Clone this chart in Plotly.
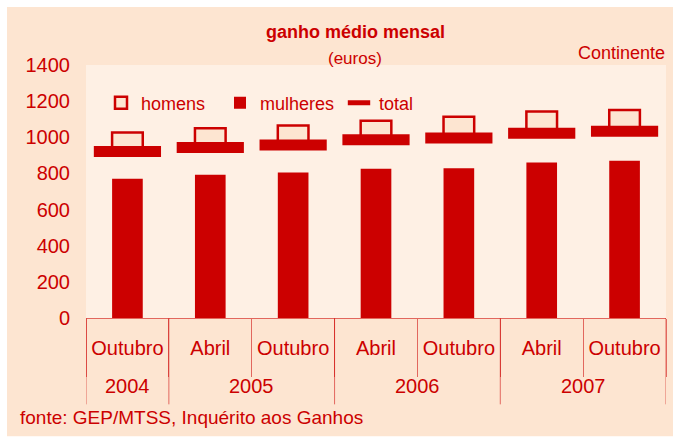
import plotly.graph_objects as go

years = ["2004", "2005", "2005", "2006", "2006", "2007", "2007"]
months = ["Outubro", "Abril", "Outubro", "Abril", "Outubro", "Abril", "Outubro"]
homens = [1026, 1050, 1065, 1091, 1113, 1142, 1151]
mulheres = [770, 792, 805, 826, 829, 860, 870]
total = [921, 943, 958, 986, 996, 1023, 1034]
y_ticks = [0, 200, 400, 600, 800, 1000, 1200, 1400]

RED = "#CC0000"
LINE_RED = "rgba(204,0,0,0.55)"
PEACH = "#FDE5D1"
LIGHT = "#FEF0E4"
FONT = "Liberation Sans, Arial, sans-serif"

idx = list(range(len(months)))

fig = go.Figure()
fig.add_trace(go.Bar(
    x=idx, y=[h - t for h, t in zip(homens, total)], base=total, name="homens",
    width=0.37, marker=dict(color=PEACH, line=dict(color=RED, width=2.5)),
))
fig.add_trace(go.Bar(
    x=idx, y=mulheres, name="mulheres", width=0.37,
    marker=dict(color=RED, line=dict(width=0)),
))
fig.add_trace(go.Scatter(
    x=idx, y=total, name="total", mode="markers",
    marker=dict(symbol="line-ew", size=48, line=dict(color=RED, width=11)),
))

W, H = 678, 441
L, R, T, B = 86, 12, 65, 122.5
pw, ph = W - L - R, H - T - B

def px(xp):
    return (xp - L) / pw

def py(yp):
    return (H - B - yp) / ph

# year groups (label at group centre, dividers at group boundaries)
groups = []
for i, yv in enumerate(years):
    if groups and groups[-1][0] == yv:
        groups[-1][1].append(i)
    else:
        groups.append((yv, [i]))

shapes = [
    dict(type="rect", xref="paper", yref="paper", layer="below",
         x0=px(7), x1=px(673), y0=py(437), y1=py(7),
         fillcolor=PEACH, line=dict(width=0)),
    dict(type="rect", xref="paper", yref="paper", layer="below",
         x0=0, x1=1, y0=0, y1=1, fillcolor=LIGHT, line=dict(width=0)),
]
annotations = []
for yv, members in groups:
    annotations.append(dict(
        text=yv, x=sum(members) / len(members), xref="x", yref="paper",
        y=py(387), yanchor="middle", showarrow=False, font=dict(size=20, color=RED)))
    shapes.append(dict(type="line", xref="x", yref="paper",
                       x0=members[0] - 0.5, x1=members[0] - 0.5, y0=0, y1=py(405),
                       line=dict(color=LINE_RED, width=1)))
last = groups[-1][1][-1] + 0.5
shapes.append(dict(type="line", xref="x", yref="paper", x0=last, x1=last,
                   y0=0, y1=py(405), line=dict(color=LINE_RED, width=1)))

annotations += [
    dict(text="<b>ganho médio mensal</b>", xref="paper", yref="paper",
         x=px(355), y=py(32), yanchor="middle", showarrow=False,
         font=dict(size=18, color=RED)),
    dict(text="(euros)", xref="paper", yref="paper",
         x=px(355), y=py(58), yanchor="middle", showarrow=False,
         font=dict(size=17, color=RED)),
    dict(text="Continente", xref="paper", yref="paper", xanchor="right",
         x=px(667), y=py(53), yanchor="middle", showarrow=False,
         font=dict(size=18, color=RED)),
    dict(text="fonte: GEP/MTSS, Inquérito aos Ganhos", xref="paper", yref="paper",
         xanchor="left", x=px(18), y=py(418), yanchor="middle", showarrow=False,
         font=dict(size=19, color=RED)),
]

fig.update_layout(
    width=W, height=H,
    margin=dict(l=L, r=R, t=T, b=B, pad=0),
    paper_bgcolor="white", plot_bgcolor=LIGHT,
    barmode="overlay",
    font=dict(family=FONT, color=RED, size=20),
    showlegend=True,
    legend=dict(
        orientation="h", x=px(101), xanchor="left", y=py(103), yanchor="middle",
        font=dict(size=18, color=RED), bgcolor="rgba(0,0,0,0)",
        entrywidth=74,
    ),
    shapes=shapes,
    annotations=annotations,
)
fig.update_yaxes(
    range=[0, 1400], tickvals=y_ticks, showgrid=False, zeroline=False,
    showline=False, ticks="outside", ticklen=11, tickcolor="rgba(0,0,0,0)",
    tickfont=dict(size=20, color=RED), automargin=False,
)
fig.update_xaxes(
    range=[-0.5, len(months) - 0.5], tickvals=idx, ticktext=months,
    showgrid=False, zeroline=False,
    showline=True, linecolor=LINE_RED, linewidth=1,
    ticks="", ticklabelstandoff=12,
    minor=dict(tick0=-0.5, dtick=1, ticks="outside", ticklen=58,
               tickcolor=LINE_RED, tickwidth=1, showgrid=False),
    tickfont=dict(size=20, color=RED), automargin=False,
)

fig.write_html("out.html")
